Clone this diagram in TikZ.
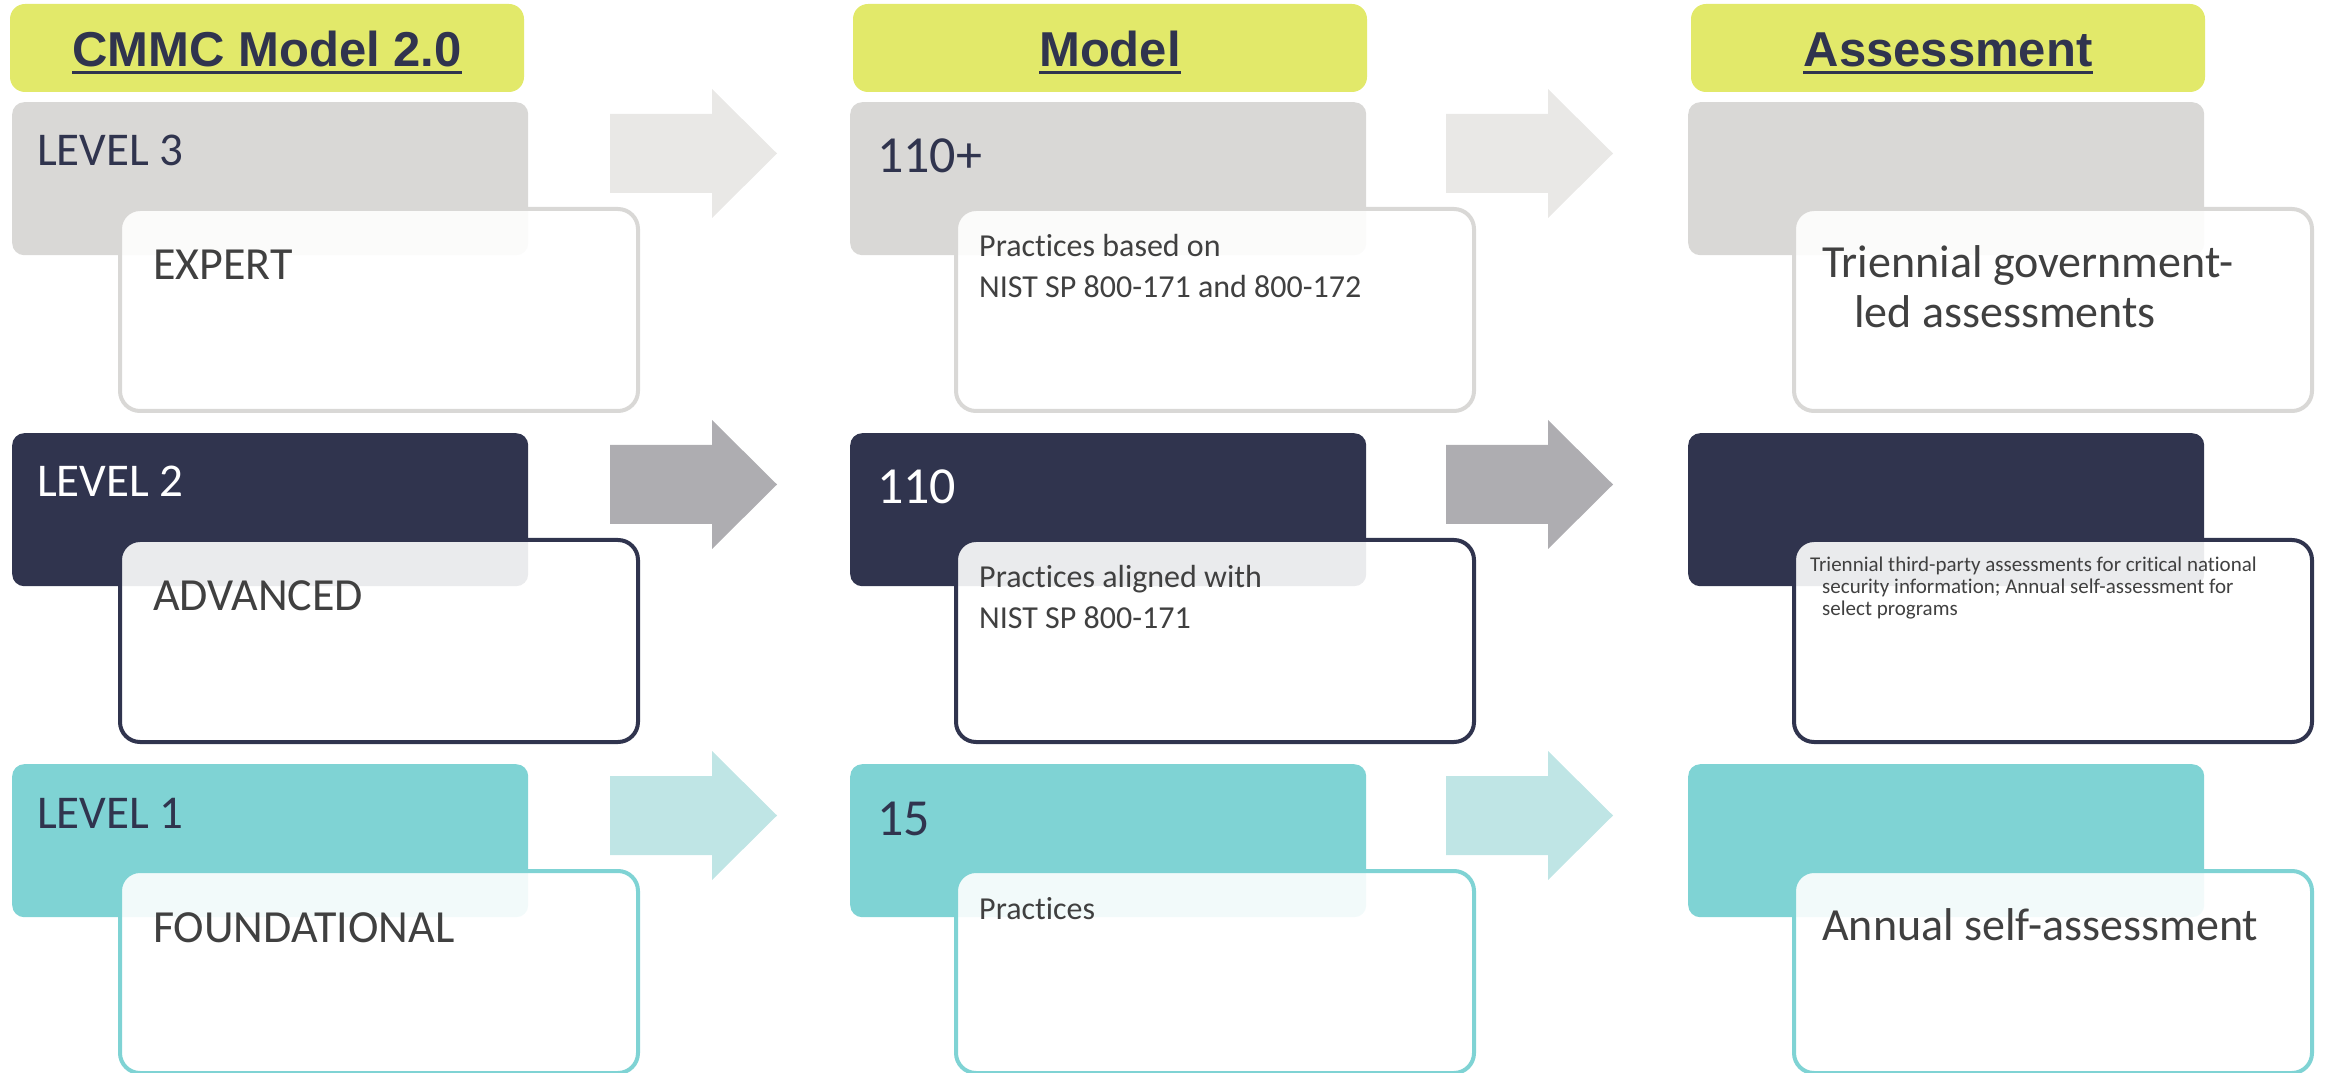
\documentclass[tikz,border=0pt]{standalone}
\usepackage{fontspec}
\setmainfont{Carlito}[Ligatures=NoCommon]
\newfontfamily\hdrfont{Liberation Sans}
\definecolor{hdrylw}{RGB}{226,233,106}
\definecolor{navy}{RGB}{48,52,78}
\definecolor{tgrey}{RGB}{217,216,214}
\definecolor{tteal}{RGB}{127,211,212}
\definecolor{arwgrey}{RGB}{233,232,230}
\definecolor{arwdark}{RGB}{174,173,177}
\definecolor{arwteal}{RGB}{191,229,229}
\definecolor{cardink}{RGB}{64,64,64}

\begin{document}
\begin{tikzpicture}[x=1pt,y=1pt,
  hdr/.style={fill=hdrylw, rounded corners=15pt, minimum width=514pt, minimum height=88pt, inner sep=0},
  hdrtxt/.style={font=\hdrfont\bfseries\fontsize{49}{58}\selectfont, text=navy, inner sep=0, anchor=base},
  tier/.style={rounded corners=12pt, minimum width=516pt, minimum height=153pt, anchor=north west, inner sep=0},
  card/.style={fill=white, fill opacity=0.9, line width=4pt, rounded corners=20pt, minimum width=518pt, minimum height=202pt, anchor=north west, inner sep=0},
  lvltxt/.style={font=\fontsize{47}{56}\selectfont, inner sep=0, anchor=base west},
  numtxt/.style={font=\fontsize{52}{62}\selectfont, inner sep=0, anchor=base west},
  cardtxt/.style={font=\fontsize{46}{50}\selectfont, text=cardink, inner sep=0, anchor=base west, align=left},
  smtxt/.style={font=\fontsize{32}{41}\selectfont, text=cardink, inner sep=0, anchor=base west, align=left},
  tinytxt/.style={font=\fontsize{21}{22}\selectfont, text=cardink, inner sep=0, anchor=base west, align=left}
]
\useasboundingbox (0,0) rectangle (2326,1072);

\node[hdr] (h1) at (267,1024) {};
\node[hdr] (h2) at (1110,1024) {};
\node[hdr] (h3) at (1948,1024) {};
\node[hdrtxt] (h1t) at (267,1005) {CMMC Model 2.0};
\node[hdrtxt] (h2t) at (1110,1005) {Model};
\node[hdrtxt] (h3t) at (1948,1005) {Assessment};
\foreach \t in {h1t,h2t,h3t}
  \draw[navy, line width=3pt] ([yshift=-6pt]\t.base west) -- ([yshift=-6pt]\t.base east);

\foreach \r/\c in {0/arwgrey,1/arwdark,2/arwteal}
  \foreach \dx in {0,836}
    \fill[\c] (610+\dx,958-331*\r) -- (712+\dx,958-331*\r) -- (712+\dx,983-331*\r)
      -- (777+\dx,918.5-331*\r) -- (712+\dx,854-331*\r) -- (712+\dx,879-331*\r)
      -- (610+\dx,879-331*\r) -- cycle;

\node[tier, fill=tgrey] (lvl3) at (12,970) {};
\node[tier, fill=navy] (lvl2) at (12,639) {};
\node[tier, fill=tteal] (lvl1) at (12,308) {};
\node[tier, fill=tgrey] (mod3) at (850,970) {};
\node[tier, fill=navy] (mod2) at (850,639) {};
\node[tier, fill=tteal] (mod1) at (850,308) {};
\node[tier, fill=tgrey] (asm3) at (1688,970) {};
\node[tier, fill=navy] (asm2) at (1688,639) {};
\node[tier, fill=tteal] (asm1) at (1688,308) {};

\node[card, draw=tgrey] (lvl3c) at (118,865) {};
\node[card, draw=navy] (lvl2c) at (118,534) {};
\node[card, draw=tteal] (lvl1c) at (118,203) {};
\node[card, draw=tgrey] (mod3c) at (954,865) {};
\node[card, draw=navy] (mod2c) at (954,534) {};
\node[card, draw=tteal] (mod1c) at (954,203) {};
\node[card, draw=tgrey] (asm3c) at (1792,865) {};
\node[card, draw=navy] (asm2c) at (1792,534) {};
\node[card, draw=tteal] (asm1c) at (1792,203) {};

\node[lvltxt, text=navy] (lvl3t) at (37,906) {LEVEL 3};
\node[lvltxt, text=white] (lvl2t) at (37,575) {LEVEL 2};
\node[lvltxt, text=navy] (lvl1t) at (37,244) {LEVEL 1};
\node[numtxt, text=navy] (mod3t) at (877,899) {110+};
\node[numtxt, text=white] (mod2t) at (877,568) {110};
\node[numtxt, text=navy] (mod1t) at (877,237) {15};

\node[cardtxt] (lvl3ct) at (153,792) {EXPERT};
\node[cardtxt] (lvl2ct) at (153,461) {ADVANCED};
\node[cardtxt] (lvl1ct) at (153,130) {FOUNDATIONAL};
\node[smtxt] (mod3ct) at (979,774) {Practices based on\\NIST SP 800-171 and 800-172};
\node[smtxt] (mod2ct) at (979,443) {Practices aligned with\\NIST SP 800-171};
\node[smtxt] (mod1ct) at (979,153) {Practices};
\node[cardtxt] (asm3ct) at (1822,744) {Triennial government-\\\hspace*{32pt}led assessments};
\node[tinytxt] (asm2ct) at (1810,456) {Triennial third-party assessments for critical national\\\hspace*{12pt}security information; Annual self-assessment for\\\hspace*{12pt}select programs};
\node[cardtxt] (asm1ct) at (1822,132) {Annual self-assessment};
\end{tikzpicture}
\end{document}
